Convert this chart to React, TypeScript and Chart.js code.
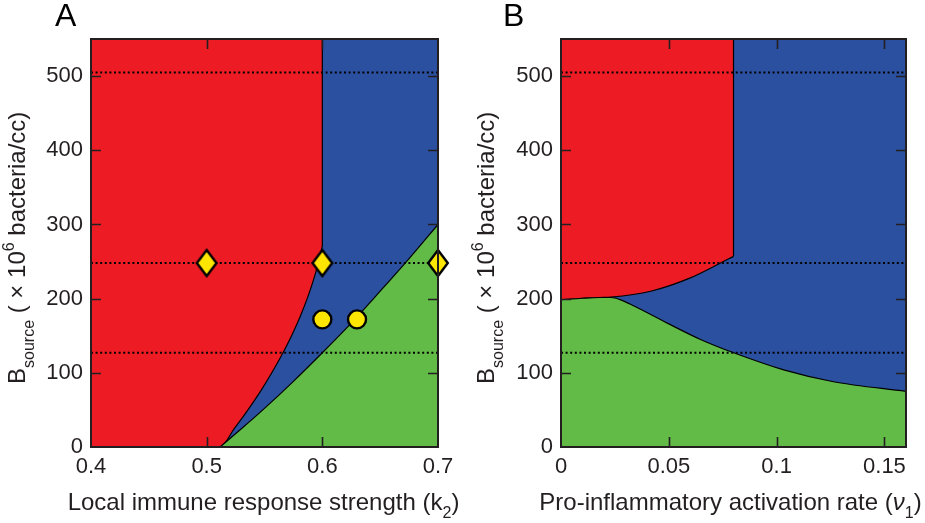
import React, { useEffect, useRef } from "react";
import { Chart, registerables } from "chart.js";
Chart.register(...registerables);

const RED = "#ED1C24";
const BLUE = "#2C50A0";
const GREEN = "#62BB47";
const YELLOW = "#FFE600";
const INK = "#231F20";
const FONT = "'Liberation Sans', Arial, Helvetica, sans-serif";

// ---------- shared ----------
const yMin = 0;
const yMax = 550;
const yTickValues = [0, 100, 200, 300, 400, 500];
const yTickLabels = ["0", "100", "200", "300", "400", "500"];
const dottedLevels = [505, 248, 127];

// ---------- panel A ----------
const aXMin = 0.4;
const aXMax = 0.7;
const aXTickValues = [0.4, 0.5, 0.6, 0.7];
const aXTickLabels = ["0.4", "0.5", "0.6", "0.7"];
const aRedBoundaryX = [0.4, 0.5115, 0.524, 0.5357, 0.5465, 0.5563, 0.5653, 0.5734, 0.5806, 0.5869, 0.5923, 0.5969, 0.6];
const aRedBoundaryY = [0, 0, 25, 50, 75, 100, 125, 150, 175, 200, 225, 250, 271];
const aRedVerticalX = [0.6, 0.6];
const aRedVerticalY = [271, 550];
const aGreenBoundaryX = [0.5115, 0.53, 0.55, 0.575, 0.6, 0.625, 0.65, 0.675, 0.7];
const aGreenBoundaryY = [0, 24.5, 52, 88.5, 127, 167, 210, 254, 300];
const aDiamondX = [0.5, 0.6, 0.7];
const aDiamondY = [248, 248, 248];
const aCircleX = [0.6, 0.63];
const aCircleY = [172, 172];

// ---------- panel B ----------
const bXMin = 0;
const bXMax = 0.16;
const bXTickValues = [0, 0.05, 0.1, 0.15];
const bXTickLabels = ["0", "0.05", "0.1", "0.15"];
const bRedBoundaryX = [0, 0.01, 0.018, 0.0231, 0.0416, 0.06, 0.074, 0.08];
const bRedBoundaryY = [198.5, 200.5, 201.5, 202, 210, 228, 248, 257];
const bRedVerticalX = [0.08, 0.08];
const bRedVerticalY = [257, 550];
const bGreenBoundaryX = [0, 0.01, 0.018, 0.0231, 0.028, 0.0339, 0.0493, 0.0647, 0.0801, 0.1033, 0.1264, 0.16];
const bGreenBoundaryY = [198.5, 200.5, 201.5, 201.5, 198, 190, 167, 145, 127, 104, 88, 75];

type Run = { t: string; s: number; dy?: number; italic?: boolean };

const zip = (xs: number[], ys: number[]) => xs.map((x, i) => ({ x, y: ys[i] }));

function makeDiamond(): HTMLCanvasElement {
  const c = document.createElement("canvas");
  c.width = 26;
  c.height = 32;
  const g = c.getContext("2d")!;
  g.beginPath();
  g.moveTo(13, 3);
  g.lineTo(22.8, 16);
  g.lineTo(13, 29);
  g.lineTo(3.2, 16);
  g.closePath();
  g.fillStyle = YELLOW;
  g.fill();
  g.lineWidth = 2.4;
  g.strokeStyle = "#000";
  g.stroke();
  return c;
}

function fontStr(r: Run) {
  return `${r.italic ? "italic " : ""}${r.s}px ${FONT}`;
}

function drawRuns(ctx: CanvasRenderingContext2D, runs: Run[], x0: number, y0: number) {
  let x = x0;
  for (const r of runs) {
    ctx.font = fontStr(r);
    ctx.fillText(r.t, x, y0 + (r.dy || 0));
    x += ctx.measureText(r.t).width;
  }
}

function runsWidth(ctx: CanvasRenderingContext2D, runs: Run[]) {
  let w = 0;
  for (const r of runs) {
    ctx.font = fontStr(r);
    w += ctx.measureText(r.t).width;
  }
  return w;
}

const yTitleRuns: Run[] = [
  { t: "B", s: 24 },
  { t: "source", s: 16, dy: 9 },
  { t: " ( \u00D7 10", s: 24 },
  { t: "6", s: 16, dy: -11 },
  { t: " bacteria/cc)", s: 24 },
];

const framePlugin = {
  id: "frame",
  beforeDatasetsDraw(chart: any) {
    const { ctx, chartArea: a } = chart;
    ctx.save();
    ctx.fillStyle = BLUE;
    ctx.fillRect(a.left, a.top, a.right - a.left, a.bottom - a.top);
    ctx.restore();
  },
  afterDatasetsDraw(chart: any, _args: any, opts: any) {
    const { ctx, chartArea: a, scales } = chart;
    const L = 10;
    ctx.save();
    ctx.strokeStyle = INK;
    ctx.lineWidth = 1.6;
    ctx.beginPath();
    for (const v of opts.xMarks) {
      const px = Math.round(scales.x.getPixelForValue(v)) + 0.5;
      ctx.moveTo(px, a.bottom);
      ctx.lineTo(px, a.bottom - L);
      ctx.moveTo(px, a.top);
      ctx.lineTo(px, a.top + L);
    }
    for (const v of opts.yMarks) {
      const py = Math.round(scales.y.getPixelForValue(v)) + 0.5;
      ctx.moveTo(a.left, py);
      ctx.lineTo(a.left + L, py);
      ctx.moveTo(a.right, py);
      ctx.lineTo(a.right - L, py);
    }
    ctx.stroke();
    ctx.lineWidth = 2;
    ctx.strokeRect(a.left, a.top, a.right - a.left, a.bottom - a.top);
    ctx.restore();
  },
  afterDraw(chart: any, _args: any, opts: any) {
    const { ctx } = chart;
    ctx.save();
    ctx.fillStyle = "#000";
    ctx.textBaseline = "alphabetic";
    ctx.textAlign = "left";
    ctx.font = `32px ${FONT}`;
    ctx.fillText(opts.letter, opts.letterX, opts.letterY);
    ctx.fillStyle = INK;
    const w = runsWidth(ctx, opts.xTitle);
    drawRuns(ctx, opts.xTitle, opts.xTitleCx - w / 2, opts.xTitleY);
    ctx.save();
    ctx.translate(opts.yTitleX, opts.yTitleStartY);
    ctx.rotate(-Math.PI / 2);
    drawRuns(ctx, yTitleRuns, 0, 0);
    ctx.restore();
    ctx.restore();
  },
};

type PanelCfg = {
  xMin: number;
  xMax: number;
  xTickValues: number[];
  xTickLabels: string[];
  xMarks: number[];
  padRight: number;
  datasets: any[];
  letter: string;
  letterX: number;
  xTitle: Run[];
  xTitleCx: number;
  yTitleX: number;
};

function buildDatasets(
  xMin: number,
  xMax: number,
  redX: number[],
  redY: number[],
  vertX: number[],
  vertY: number[],
  greenX: number[],
  greenY: number[],
  diamonds: { x: number; y: number }[],
  circles: { x: number; y: number }[]
) {
  const ds: any[] = [];
  ds.push({
    data: zip(redX, redY),
    fill: "end",
    backgroundColor: RED,
    borderColor: "#000",
    borderWidth: 1.2,
    pointRadius: 0,
    cubicInterpolationMode: "monotone",
    order: 6,
  });
  ds.push({
    data: zip(greenX, greenY),
    fill: "start",
    backgroundColor: GREEN,
    borderColor: "#000",
    borderWidth: 1.2,
    pointRadius: 0,
    cubicInterpolationMode: "monotone",
    order: 5,
  });
  ds.push({
    data: zip(vertX, vertY),
    fill: false,
    borderColor: "#000",
    borderWidth: 1.2,
    pointRadius: 0,
    order: 4,
  });
  for (const lvl of dottedLevels) {
    ds.push({
      data: [
        { x: xMin, y: lvl },
        { x: xMax, y: lvl },
      ],
      fill: false,
      borderColor: "#000",
      borderWidth: 2,
      borderDash: [2, 2.6],
      pointRadius: 0,
      order: 3,
    });
  }
  if (circles.length) {
    ds.push({
      data: circles,
      showLine: false,
      pointStyle: "circle",
      pointRadius: 9,
      pointBorderWidth: 2.4,
      pointBackgroundColor: YELLOW,
      pointBorderColor: "#000",
      order: 1,
    });
  }
  if (diamonds.length) {
    ds.push({
      data: diamonds,
      showLine: false,
      pointStyle: makeDiamond(),
      pointRadius: 12,
      order: 0,
      clip: false,
    });
  }
  return ds;
}

function Panel({ cfg, left, width }: { cfg: PanelCfg; left: number; width: number }) {
  const ref = useRef<HTMLCanvasElement>(null);
  useEffect(() => {
    const chart = new Chart(ref.current!, {
      type: "line",
      data: { datasets: cfg.datasets },
      plugins: [framePlugin],
      options: {
        animation: false,
        responsive: false,
        maintainAspectRatio: false,
        events: [],
        layout: { padding: { left: 0, right: cfg.padRight, top: 39, bottom: 0 } },
        plugins: {
          legend: { display: false },
          tooltip: { enabled: false },
          frame: {
            xMarks: cfg.xMarks,
            yMarks: yTickValues.slice(1),
            letter: cfg.letter,
            letterX: cfg.letterX,
            letterY: 26,
            xTitle: cfg.xTitle,
            xTitleCx: cfg.xTitleCx,
            xTitleY: 510,
            yTitleX: cfg.yTitleX,
            yTitleStartY: 384,
          },
        } as any,
        scales: {
          x: {
            type: "linear",
            min: cfg.xMin,
            max: cfg.xMax,
            grid: { display: false, drawTicks: false },
            border: { display: false },
            ticks: {
              font: { family: FONT, size: 22 },
              color: INK,
              padding: 7,
              maxRotation: 0,
              autoSkip: false,
              callback: (_v: any, i: number) => cfg.xTickLabels[i],
            },
            afterBuildTicks: (s: any) => {
              s.ticks = cfg.xTickValues.map((v) => ({ value: v }));
            },
            afterFit: (s: any) => {
              s.height = 76;
            },
          },
          y: {
            type: "linear",
            min: yMin,
            max: yMax,
            grid: { display: false, drawTicks: false },
            border: { display: false },
            ticks: {
              font: { family: FONT, size: 22 },
              color: INK,
              padding: 8,
              autoSkip: false,
              callback: (_v: any, i: number) => yTickLabels[i],
            },
            afterBuildTicks: (s: any) => {
              s.ticks = yTickValues.map((v) => ({ value: v }));
            },
            afterFit: (s: any) => {
              s.width = 91;
            },
          },
        },
      } as any,
    });
    return () => chart.destroy();
  }, []);
  return (
    <canvas
      ref={ref}
      width={width}
      height={523}
      style={{ position: "absolute", left, top: 0, width, height: 523 }}
    />
  );
}

const panelA: PanelCfg = {
  xMin: aXMin,
  xMax: aXMax,
  xTickValues: aXTickValues,
  xTickLabels: aXTickLabels,
  xMarks: [0.5, 0.6],
  padRight: 32,
  datasets: buildDatasets(
    aXMin,
    aXMax,
    aRedBoundaryX,
    aRedBoundaryY,
    aRedVerticalX,
    aRedVerticalY,
    aGreenBoundaryX,
    aGreenBoundaryY,
    zip(aDiamondX, aDiamondY),
    zip(aCircleX, aCircleY)
  ),
  letter: "A",
  letterX: 55,
  xTitle: [
    { t: "Local immune response strength (k", s: 24 },
    { t: "2", s: 16, dy: 8 },
    { t: ")", s: 24 },
  ],
  xTitleCx: 263.5,
  yTitleX: 25,
};

const panelB: PanelCfg = {
  xMin: bXMin,
  xMax: bXMax,
  xTickValues: bXTickValues,
  xTickLabels: bXTickLabels,
  xMarks: [0.05, 0.1, 0.15],
  padRight: 19,
  datasets: buildDatasets(
    bXMin,
    bXMax,
    bRedBoundaryX,
    bRedBoundaryY,
    bRedVerticalX,
    bRedVerticalY,
    bGreenBoundaryX,
    bGreenBoundaryY,
    [],
    []
  ),
  letter: "B",
  letterX: 33,
  xTitle: [
    { t: "Pro-inflammatory activation rate (", s: 24 },
    { t: "\u03BD", s: 24, italic: true },
    { t: "1", s: 16, dy: 8 },
    { t: ")", s: 24 },
  ],
  xTitleCx: 260.5,
  yTitleX: 24,
};

export default function App() {
  return (
    <div style={{ position: "absolute", left: 0, top: 0, width: 925, height: 523, background: "#fff" }}>
      <Panel cfg={panelA} left={0} width={470} />
      <Panel cfg={panelB} left={470} width={455} />
    </div>
  );
}
